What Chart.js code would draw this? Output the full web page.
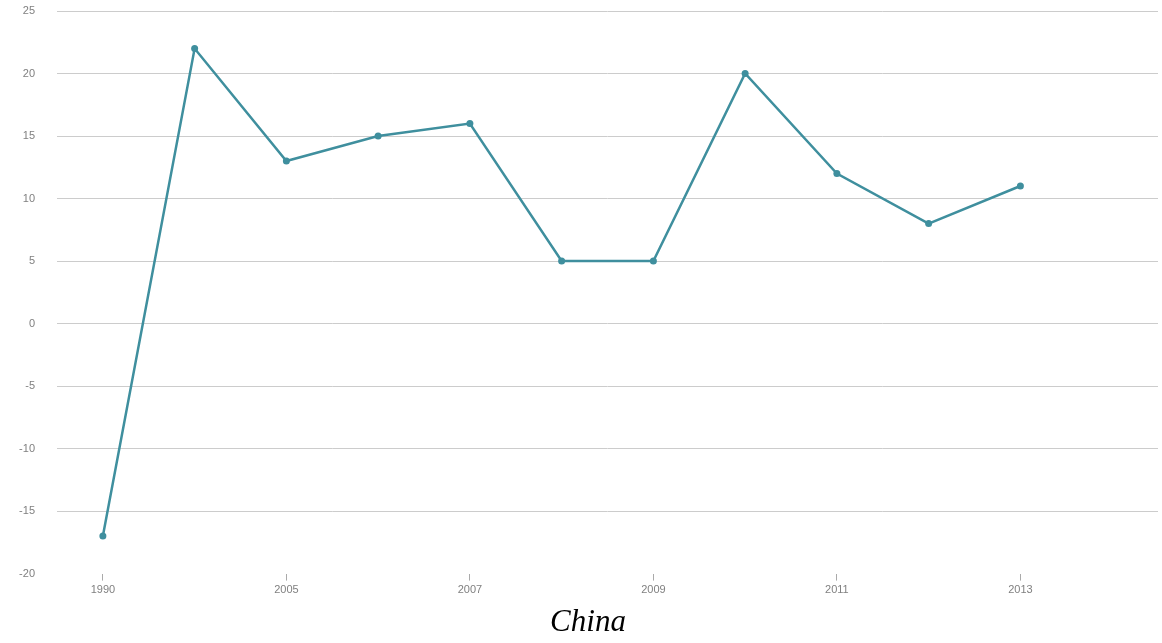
<!DOCTYPE html>
<html>
<head>
<meta charset="utf-8">
<script src="https://cdn.jsdelivr.net/npm/chart.js@4"></script>
<style>
    html, body { margin: 0; padding: 0; background: #fff; }
    #wrap { width: 1162px; height: 643px; position: relative; }
</style>
</head>
<body>
<div id="wrap"><canvas id="chart"></canvas></div>
<script>
// Chart data
const years = ['1990', '2000', '2005', '2006', '2007', '2008', '2009', '2010', '2011', '2012', '2013', '2014'];
const values = [-17, 22, 13, 15, 16, 5, 5, 20, 12, 8, 11, null];
const chartTitle = 'China';

const LINE_COLOR = '#3f8f9e';
const GRID_COLOR = '#cccccc';
const TICK_FONT = { family: '"Liberation Sans", Arial, sans-serif', size: 11 };

const ctx = document.getElementById('chart').getContext('2d');
new Chart(ctx, {
    type: 'line',
    data: {
        labels: years,
        datasets: [{
            label: chartTitle,
            data: values,
            borderColor: LINE_COLOR,
            backgroundColor: LINE_COLOR,
            borderWidth: 2.5,
            pointRadius: 3.5,
            pointBorderWidth: 0,
            tension: 0,
            fill: false
        }]
    },
    options: {
        responsive: true,
        maintainAspectRatio: false,
        animation: false,
        layout: {
            padding: { left: 16, right: 2, top: 11, bottom: 2 }
        },
        plugins: {
            legend: { display: false },
            tooltip: { enabled: false },
            title: {
                display: true,
                text: chartTitle,
                position: 'bottom',
                color: '#000',
                font: { family: '"Liberation Serif", "Times New Roman", serif', size: 31, style: 'italic', weight: 'normal' },
                padding: { top: 4, bottom: 0 }
            }
        },
        scales: {
            x: {
                offset: true,
                border: { display: false },
                grid: {
                    drawOnChartArea: false,
                    drawTicks: true,
                    tickLength: 7,
                    // only labelled years get a tick mark
                    tickColor: (c) => c.index % 2 === 0 ? '#aaaaaa' : 'rgba(0,0,0,0)'
                },
                ticks: {
                    autoSkip: false,
                    maxRotation: 0,
                    color: '#808080',
                    font: TICK_FONT,
                    padding: 3,
                    callback: function(val, i) {
                        return i % 2 === 0 ? this.getLabelForValue(val) : '';
                    }
                }
            },
            y: {
                min: -20,
                max: 25,
                border: { display: false },
                afterFit: (scale) => { scale.width = 41; },
                grid: {
                    // invisible ticks keep the labels away from the grid
                    drawTicks: true,
                    tickLength: 22,
                    tickColor: 'rgba(0,0,0,0)',
                    color: (c) => c.tick && c.tick.value === -20 ? 'rgba(0,0,0,0)' : GRID_COLOR,
                    lineWidth: 1
                },
                ticks: {
                    stepSize: 5,
                    color: '#808080',
                    font: TICK_FONT,
                    padding: 0
                }
            }
        }
    }
});
</script>
</body>
</html>
